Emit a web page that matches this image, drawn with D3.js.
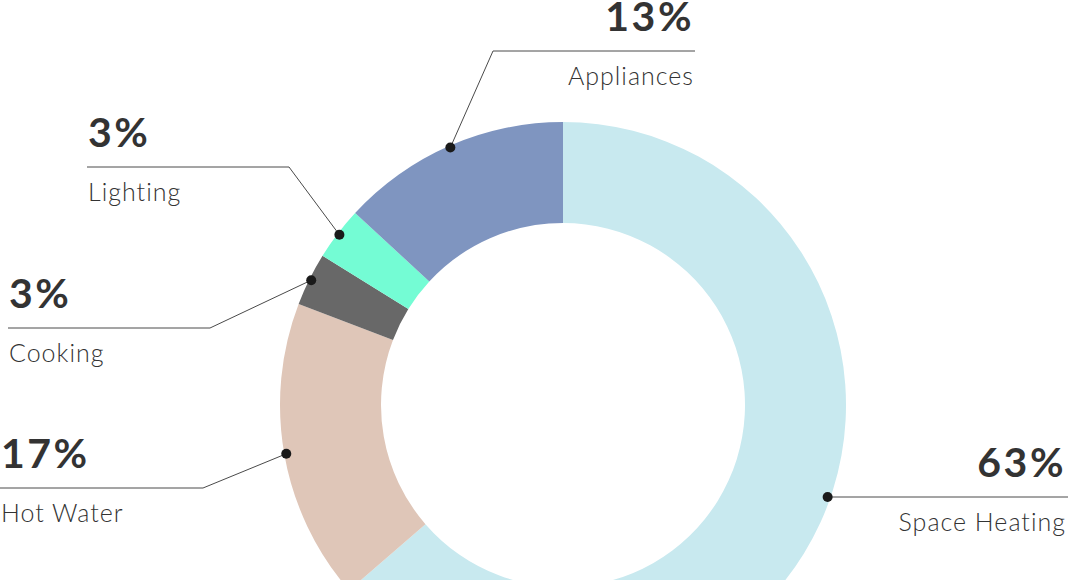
<!DOCTYPE html>
<html><head><meta charset="utf-8">
<script src="https://cdn.jsdelivr.net/npm/d3@7"></script>
<style>
html,body{margin:0;padding:0;background:#fff;}
svg{display:block;}
</style>
</head><body>
<svg id="chart" width="1068" height="580"></svg>
<script>
// Data
const categories = ["Space Heating", "Hot Water", "Cooking", "Lighting", "Appliances"];
const values = [63, 17, 3, 3, 13];
const valueLabels = ["63%", "17%", "3%", "3%", "13%"];
const colors = ["#c8e9ef", "#dfc6b8", "#686868", "#74fcd4", "#7f95c0"];

// Label layout (positions only)
const labelLayout = {
  "Space Heating": {lineY: 497, x1: null, x2: 1068, textX: 1066, anchor: "end", horizontal: true},
  "Hot Water":     {lineY: 488, x1: 0,   x2: 203, textX: 1,   anchor: "start"},
  "Cooking":       {lineY: 328, x1: 8,   x2: 210, textX: 9,   anchor: "start"},
  "Lighting":      {lineY: 167, x1: 87,  x2: 289, textX: 88,  anchor: "start"},
  "Appliances":    {lineY: 51,  x1: 695, x2: 493, textX: 694, anchor: "end"}
};

const W = 1068, H = 580;
const cx = 563, cy = 405, R = 283, r = 182;
const svg = d3.select("#chart");
const g = svg.append("g").attr("transform", `translate(${cx},${cy})`);

const data = categories.map((c, i) => ({name: c, value: values[i], label: valueLabels[i], color: colors[i]}));
const pie = d3.pie().value(d => d.value).sort(null);
const arc = d3.arc().innerRadius(r).outerRadius(R);
const arcs = pie(data);

g.selectAll("path.slice").data(arcs).join("path")
  .attr("class", "slice")
  .attr("d", arc)
  .attr("fill", d => d.data.color);

const lineColor = "#4a4a4a";
const textColor = "#333333";

arcs.forEach(a => {
  const L = labelLayout[a.data.name];
  let dx, dy;
  if (L.horizontal) {
    dy = L.lineY;
    const off = L.lineY - cy;
    dx = cx + Math.sqrt(R * R - off * off) - 3;
  } else {
    const mid = (a.startAngle + a.endAngle) / 2;
    dx = cx + (R - 2) * Math.sin(mid);
    dy = cy - (R - 2) * Math.cos(mid);
  }
  let pts;
  if (L.horizontal) {
    pts = [[dx, dy], [L.x2, L.lineY]];
  } else {
    pts = [[L.x1, L.lineY], [L.x2, L.lineY], [dx, dy]];
  }
  svg.append("path")
    .attr("d", d3.line()(pts))
    .attr("fill", "none")
    .attr("stroke", lineColor)
    .attr("stroke-width", 1);
  svg.append("circle")
    .attr("cx", dx).attr("cy", dy).attr("r", 5)
    .attr("fill", "#1a1a1a");
  svg.append("text")
    .attr("x", L.textX).attr("y", L.lineY - 20)
    .attr("text-anchor", L.anchor)
    .attr("font-family", "Lato, 'Noto Sans', sans-serif")
    .attr("font-weight", 700)
    .attr("font-size", 41)
    .attr("letter-spacing", 2.5)
    .attr("fill", textColor)
    .text(a.data.label);
  svg.append("text")
    .attr("x", L.textX).attr("y", L.lineY + 34)
    .attr("text-anchor", L.anchor)
    .attr("font-family", "Lato, 'Noto Sans', sans-serif")
    .attr("font-weight", 300)
    .attr("font-size", 25)
    .attr("letter-spacing", 1)
    .attr("fill", textColor)
    .text(a.data.name);
});
</script>
</body></html>
